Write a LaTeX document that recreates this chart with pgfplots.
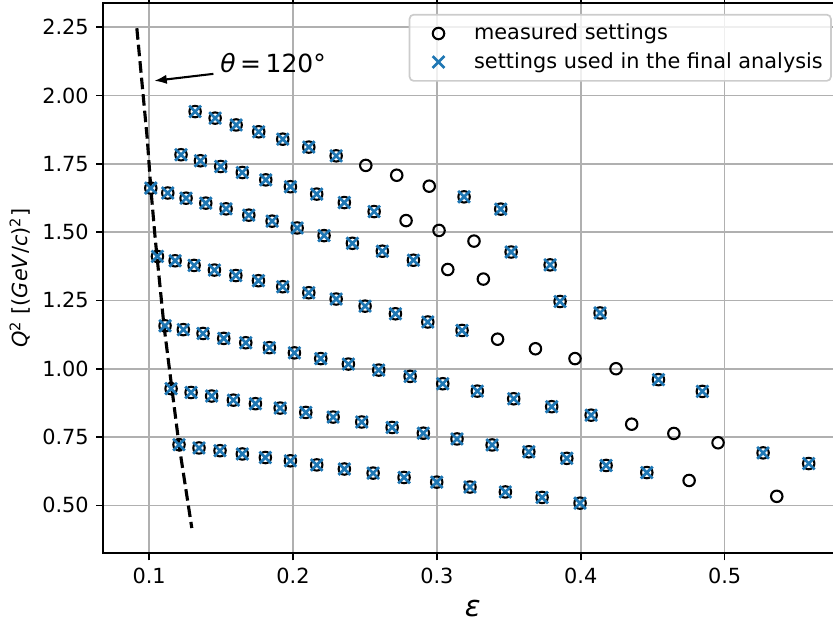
\documentclass[border=0pt]{standalone}
\usepackage{fontspec}
\setmainfont{DejaVu Sans}
\usepackage{pgfplots}
\pgfplotsset{compat=1.18}
\usepackage{pgfplotstable}
\usetikzlibrary{arrows.meta}

\definecolor{mplblue}{HTML}{1F77B4}
\definecolor{gridgray}{HTML}{B0B0B0}
\definecolor{legedge}{HTML}{CCCCCC}

% legend handle: a single marker centred in a 20pt wide slot
\pgfplotsset{
  markonlylegend/.style={legend image code/.code={%
    \path[draw=none, fill=none] (0pt,0pt) -- (20pt,0pt);
    \draw[##1] plot coordinates {(10pt,0pt)};}},
}

% kinematic settings kept in the final analysis (epsilon, Q^2)
\pgfplotstableread{
eps Q2
0.1320 1.941
0.1459 1.917
0.1605 1.892
0.1762 1.867
0.1929 1.840
0.2110 1.811
0.2300 1.779
0.3189 1.629
0.3444 1.584
0.1222 1.783
0.1357 1.761
0.1498 1.740
0.1648 1.718
0.1811 1.691
0.1982 1.666
0.2165 1.639
0.2357 1.608
0.2564 1.575
0.3516 1.427
0.3787 1.380
0.1012 1.661
0.1130 1.643
0.1257 1.624
0.1394 1.606
0.1535 1.585
0.1693 1.562
0.1855 1.540
0.2029 1.515
0.2216 1.487
0.2413 1.459
0.2621 1.430
0.2837 1.397
0.3856 1.246
0.4134 1.204
0.1058 1.411
0.1181 1.395
0.1313 1.378
0.1454 1.361
0.1603 1.341
0.1760 1.322
0.1929 1.300
0.2110 1.278
0.2300 1.255
0.2501 1.229
0.2712 1.201
0.2937 1.171
0.3175 1.140
0.4540 0.960
0.4845 0.917
0.1111 1.157
0.1238 1.143
0.1375 1.129
0.1519 1.111
0.1672 1.095
0.1836 1.077
0.2010 1.058
0.2193 1.037
0.2385 1.017
0.2596 0.995
0.2814 0.972
0.3041 0.945
0.3281 0.918
0.3534 0.890
0.3798 0.861
0.4072 0.830
0.5267 0.692
0.5584 0.653
0.1153 0.927
0.1292 0.913
0.1435 0.900
0.1586 0.885
0.1739 0.872
0.1911 0.856
0.2089 0.840
0.2279 0.823
0.2478 0.805
0.2689 0.785
0.2906 0.764
0.3140 0.743
0.3384 0.721
0.3639 0.696
0.3903 0.672
0.4176 0.646
0.4459 0.620
0.1208 0.722
0.1347 0.710
0.1493 0.700
0.1648 0.688
0.1808 0.675
0.1982 0.663
0.2165 0.648
0.2357 0.633
0.2557 0.618
0.2772 0.602
0.2999 0.585
0.3230 0.567
0.3476 0.549
0.3731 0.529
0.3995 0.508
}\usedset

% measured settings not used in the final analysis
\pgfplotstableread{
eps Q2
0.2506 1.744
0.2721 1.708
0.2947 1.668
0.2786 1.542
0.3015 1.506
0.3258 1.467
0.3076 1.363
0.3323 1.328
0.3422 1.108
0.3685 1.073
0.3960 1.037
0.4245 1.000
0.4354 0.797
0.4647 0.763
0.4954 0.729
0.4753 0.591
0.5362 0.533
}\droppedset

% theta = 120 degree line
\pgfplotstableread{
eps Q2
0.0915 2.246
0.0988 1.838
0.1012 1.661
0.1042 1.480
0.1104 1.155
0.1208 0.722
0.1297 0.417
}\thetaline

\begin{document}
\begin{tikzpicture}
\path[use as bounding box] (-49.6pt,-33.5pt) rectangle (350.3pt,265.5pt);
\begin{axis}[
  at={(0pt,0pt)}, anchor=south west,
  scale only axis, width=354.8pt, height=263.95pt,
  xmin=0.0682, xmax=0.5818, ymin=0.3255, ymax=2.3375,
  xtick={0.1,0.2,0.3,0.4,0.5},
  ytick={0.5,0.75,1.0,1.25,1.5,1.75,2.0,2.25},
  xticklabel style={/pgf/number format/.cd, fixed, fixed zerofill, precision=1},
  yticklabel style={/pgf/number format/.cd, fixed, fixed zerofill, precision=2},
  /pgf/number format/assume math mode=true,
  ticklabel style={font=\fontsize{10}{12}\selectfont},
  tick align=outside, major tick length=3.5pt,
  tick style={black, line width=0.8pt},
  axis line style={black, line width=0.8pt},
  grid=major,
  major grid style={gridgray, line width=0.8pt},
  xlabel={\textit{ε}},
  xlabel style={font=\fontsize{14}{17}\selectfont, at={([yshift=-26.5pt]axis description cs:0.5,0)}, anchor=center, inner sep=0pt},
  ylabel={\textit{Q}\textsuperscript{2} [(\textit{GeV}/\textit{c})\textsuperscript{2}]},
  ylabel style={font=\fontsize{10}{12}\selectfont, at={([xshift=-36.2pt]axis description cs:0,0.5)}, anchor=base},
  legend style={at={(1,1)}, anchor=north east, xshift=-5.1pt, yshift=-5.1pt,
    draw=legedge, line width=0.8pt, rounded corners=2pt, fill=white, fill opacity=0.8,
    text opacity=1, draw opacity=1,
    font=\fontsize{10}{12}\selectfont,
    nodes={inner xsep=0pt},
    inner xsep=3.9pt, inner ysep=2.5pt, row sep=0.6pt, column sep=7.1pt},
  legend cell align=left,
]
\addplot[only marks, mark=o, mark size=2.75pt, mark options={black, line width=1pt}, markonlylegend]
  table[x=eps, y=Q2] {\droppedset};
\addlegendentry{measured settings}
\addplot[only marks, mark=o, mark size=2.75pt, mark options={black, line width=1pt}, forget plot]
  table[x=eps, y=Q2] {\usedset};
\addplot[only marks, mark=x, mark size=4pt, mark options={mplblue, line width=1.3pt}, markonlylegend]
  table[x=eps, y=Q2] {\usedset};
\addlegendentry{settings used in the final analysis}
\addplot[black, line width=1.5pt, dash pattern=on 5.55pt off 2.4pt, forget plot]
  table[x=eps, y=Q2] {\thetaline};
\draw[-{Latex[length=6pt,width=4.5pt]}, line width=1pt] (axis cs:0.1447,2.079) -- (axis cs:0.1036,2.0535);
\node[anchor=base west, inner sep=0pt, font=\fontsize{12}{14}\selectfont] at (axis cs:0.1493,2.084) {\textit{θ}\hspace{0.18em}=\hspace{0.18em}120°};
\end{axis}
\end{tikzpicture}
\end{document}
